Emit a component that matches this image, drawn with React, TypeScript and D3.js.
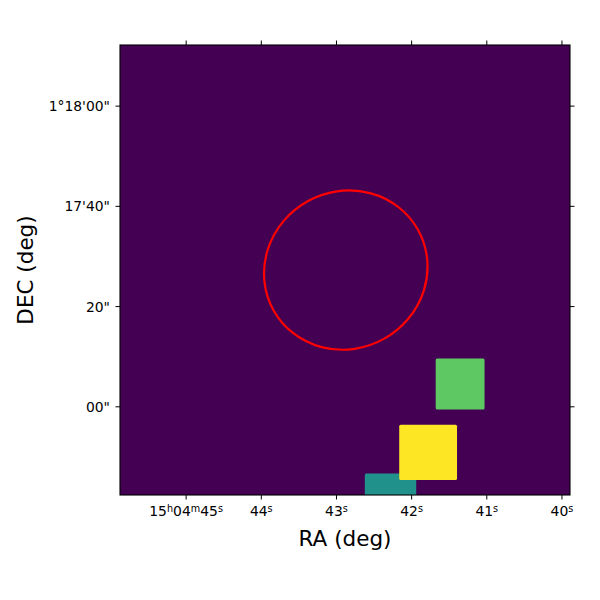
import * as d3 from 'd3';

// RA in seconds of 15h04m, DEC in arcsec above 1°17'00"
const raTicks = [45, 44, 43, 42, 41, 40];
const raTickParts: [string, string][][] = [
  [['15', 'h'], ['04', 'm'], ['45', 's']],
  [['44', 's']],
  [['43', 's']],
  [['42', 's']],
  [['41', 's']],
  [['40', 's']],
];
const decTicks = [60, 40, 20, 0];
const decTickLabels = ['1°18\'00"', '17\'40"', '20"', '00"'];

// image extent
const raRange = [45.88, 39.893];
const decRange = [-17.6, 72.2];

// source footprints (value on the viridis scale)
const srcRaLeft = [42.623, 42.165, 41.68];
const srcRaRight = [41.939, 41.396, 41.03];
const srcDecTop = [-13.29, -3.59, 9.66];
const srcDecBottom = [-22, -14.63, -0.52];
const srcLevel = [0.5, 1, 0.75];

// region circle
const regionRa = 42.876;
const regionDec = 27.28;
const regionMajor = 16.5; // arcsec
const regionMinor = 15.7;
const regionAngle = -29;

const width = 600;
const height = 600;
const margin = { top: 45, right: 30, bottom: 105, left: 120 };
const font = 'DejaVu Sans, sans-serif';

const App = () => {
  const x = d3.scaleLinear().domain(raRange).range([margin.left, width - margin.right]);
  const y = d3.scaleLinear().domain(decRange).range([height - margin.bottom, margin.top]);
  const x0 = margin.left;
  const x1 = width - margin.right;
  const y0 = margin.top;
  const y1 = height - margin.bottom;

  const cx = x(regionRa);
  const cy = y(regionDec);
  const rx = Math.abs(x(regionRa + regionMajor / 15) - cx);
  const ry = Math.abs(y(regionDec + regionMinor) - cy);

  return (
    <svg
      width={width}
      height={height}
      style={{ position: 'absolute', left: 0, top: 0, background: '#fff' }}
      fontFamily={font}
    >
      <defs>
        <clipPath id="frame">
          <rect x={x0} y={y0} width={x1 - x0} height={y1 - y0} />
        </clipPath>
      </defs>
      <g clipPath="url(#frame)">
        <rect x={x0} y={y0} width={x1 - x0} height={y1 - y0} fill={d3.interpolateViridis(0)} />
        {srcLevel.map((v, i) => (
          <rect
            key={i}
            x={x(srcRaLeft[i])}
            y={y(srcDecTop[i])}
            width={x(srcRaRight[i]) - x(srcRaLeft[i])}
            height={y(srcDecBottom[i]) - y(srcDecTop[i])}
            rx={1.5}
            fill={d3.interpolateViridis(v)}
          />
        ))}
        <ellipse
          cx={cx}
          cy={cy}
          rx={rx}
          ry={ry}
          transform={`rotate(${regionAngle},${cx},${cy})`}
          fill="none"
          stroke="red"
          strokeWidth={2.2}
        />
      </g>
      <rect x={x0} y={y0} width={x1 - x0} height={y1 - y0} fill="none" stroke="#000" strokeWidth={1.1} />

      {/* RA ticks, bottom and top */}
      {raTicks.map((t, i) => (
        <g key={t}>
          <line x1={x(t)} x2={x(t)} y1={y1} y2={y1 + 4.5} stroke="#000" />
          <line x1={x(t)} x2={x(t)} y1={y0} y2={y0 - 4.5} stroke="#000" />
          <text x={x(t)} y={516} textAnchor="middle" fontSize={13.9} fill="#000">
            {raTickParts[i].map(([num, unit], j) => (
              <tspan key={j}>
                <tspan dy={j === 0 ? 0 : 4}>{num}</tspan>
                <tspan fontSize={9.7} dy={-4}>{unit}</tspan>
              </tspan>
            ))}
          </text>
        </g>
      ))}

      {/* DEC ticks, left and right */}
      {decTicks.map((t, i) => (
        <g key={t}>
          <line x1={x0} x2={x0 - 4.5} y1={y(t)} y2={y(t)} stroke="#000" />
          <line x1={x1} x2={x1 + 4.5} y1={y(t)} y2={y(t)} stroke="#000" />
          <text x={110} y={y(t)} dy="0.36em" textAnchor="end" fontSize={13.9} fill="#000">
            {decTickLabels[i]}
          </text>
        </g>
      ))}

      <text x={(x0 + x1) / 2} y={546} textAnchor="middle" fontSize={21.5} fill="#000">
        RA (deg)
      </text>
      <text
        transform={`translate(33,${(y0 + y1) / 2}) rotate(-90)`}
        textAnchor="middle"
        fontSize={21.5}
        fill="#000"
      >
        DEC (deg)
      </text>
    </svg>
  );
};

export default App;
